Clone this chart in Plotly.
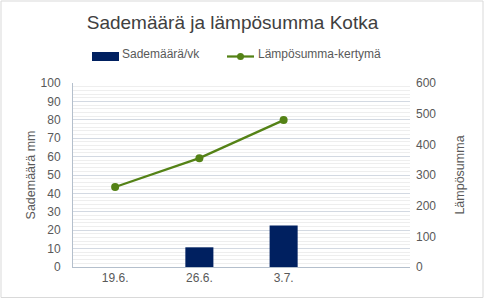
import plotly.graph_objects as go

categories = ["19.6.", "26.6.", "3.7."]
sademaara = [None, 10.7, 22.5]
lamposumma = [261, 355, 479]

W, H = 485, 300
L, R, T, B = 73, 75, 83, 33
pw = W - L - R
ph = H - T - B

def px_x(p):
    return (p - L) / pw

def px_y(p):
    return (H - B - p) / ph

BAR_COLOR = "#002060"
LINE_COLOR = "#548216"
TXT = "#595959"
font = "Liberation Sans, Arial, sans-serif"

fig = go.Figure()
fig.add_trace(go.Bar(
    x=categories, y=sademaara, name="Sademäärä/vk",
    marker=dict(color=BAR_COLOR, line=dict(width=0)),
    yaxis="y", showlegend=False,
))
fig.add_trace(go.Scatter(
    x=categories, y=lamposumma, name="Lämpösumma-kertymä",
    mode="lines+markers",
    line=dict(color=LINE_COLOR, width=2.25),
    marker=dict(color=LINE_COLOR, size=8),
    yaxis="y2", showlegend=False,
))

# manual legend (symbols + labels)
leg_y = 56.5
shapes = [
    dict(type="rect", xref="paper", yref="paper",
         x0=px_x(1), x1=px_x(483), y0=px_y(297.5), y1=px_y(1),
         line=dict(color="#d9d9d9", width=1), fillcolor="rgba(0,0,0,0)", layer="below"),
    dict(type="rect", xref="paper", yref="paper",
         x0=px_x(92), x1=px_x(119), y0=px_y(61), y1=px_y(52),
         line=dict(width=0), fillcolor=BAR_COLOR),
    dict(type="line", xref="paper", yref="paper",
         x0=px_x(227), x1=px_x(254), y0=px_y(leg_y), y1=px_y(leg_y),
         line=dict(color=LINE_COLOR, width=2.25)),
    dict(type="circle", xref="paper", yref="paper",
         x0=px_x(237), x1=px_x(244), y0=px_y(leg_y + 3.5), y1=px_y(leg_y - 3.5),
         line=dict(width=0), fillcolor=LINE_COLOR),
]
annotations = [
    dict(text="Sademäärä/vk", xref="paper", yref="paper", x=px_x(120), y=px_y(54.5),
         xanchor="left", yanchor="middle", showarrow=False,
         font=dict(family=font, size=12, color=TXT)),
    dict(text="Lämpösumma-kertymä", xref="paper", yref="paper", x=px_x(256), y=px_y(54.5),
         xanchor="left", yanchor="middle", showarrow=False,
         font=dict(family=font, size=12, color=TXT)),
]

fig.update_layout(
    width=W, height=H,
    margin=dict(l=L, r=R, t=T, b=B),
    paper_bgcolor="white", plot_bgcolor="white",
    font=dict(family=font, size=12, color=TXT),
    title=dict(text="Sademäärä ja lämpösumma Kotka", xref="container", x=232.5 / W,
               xanchor="center", yref="container", y=1 - 22 / H, yanchor="middle",
               font=dict(family=font, size=19, color="#404040")),
    bargap=0.667,
    showlegend=False,
    xaxis=dict(type="category", range=[-0.5, 3.5], showgrid=False,
               showline=True, linecolor="#b4bfcc", linewidth=1,
               ticks="", tickfont=dict(size=12, color=TXT)),
    yaxis=dict(range=[0, 100], dtick=10, tick0=0,
               showgrid=True, gridcolor="#d3d9e2", gridwidth=1,
               minor=dict(dtick=2, showgrid=True, gridcolor="#eeeeee", gridwidth=1),
               showline=True, linecolor="#b4bfcc", linewidth=1,
               zeroline=False, ticks="", ticklabelstandoff=9,
               title=dict(text="Sademäärä mm", font=dict(size=12.5, color=TXT), standoff=2),
               tickfont=dict(size=12, color=TXT)),
    yaxis2=dict(range=[0, 600], dtick=100, tick0=0, overlaying="y", side="right",
                showgrid=False, zeroline=False, showline=False, ticks="",
                ticklabelstandoff=5,
                title=dict(text="Lämpösumma", font=dict(size=12.5, color=TXT), standoff=19),
                tickfont=dict(size=12, color=TXT)),
    shapes=shapes,
    annotations=annotations,
)

fig.write_html("out.html")
